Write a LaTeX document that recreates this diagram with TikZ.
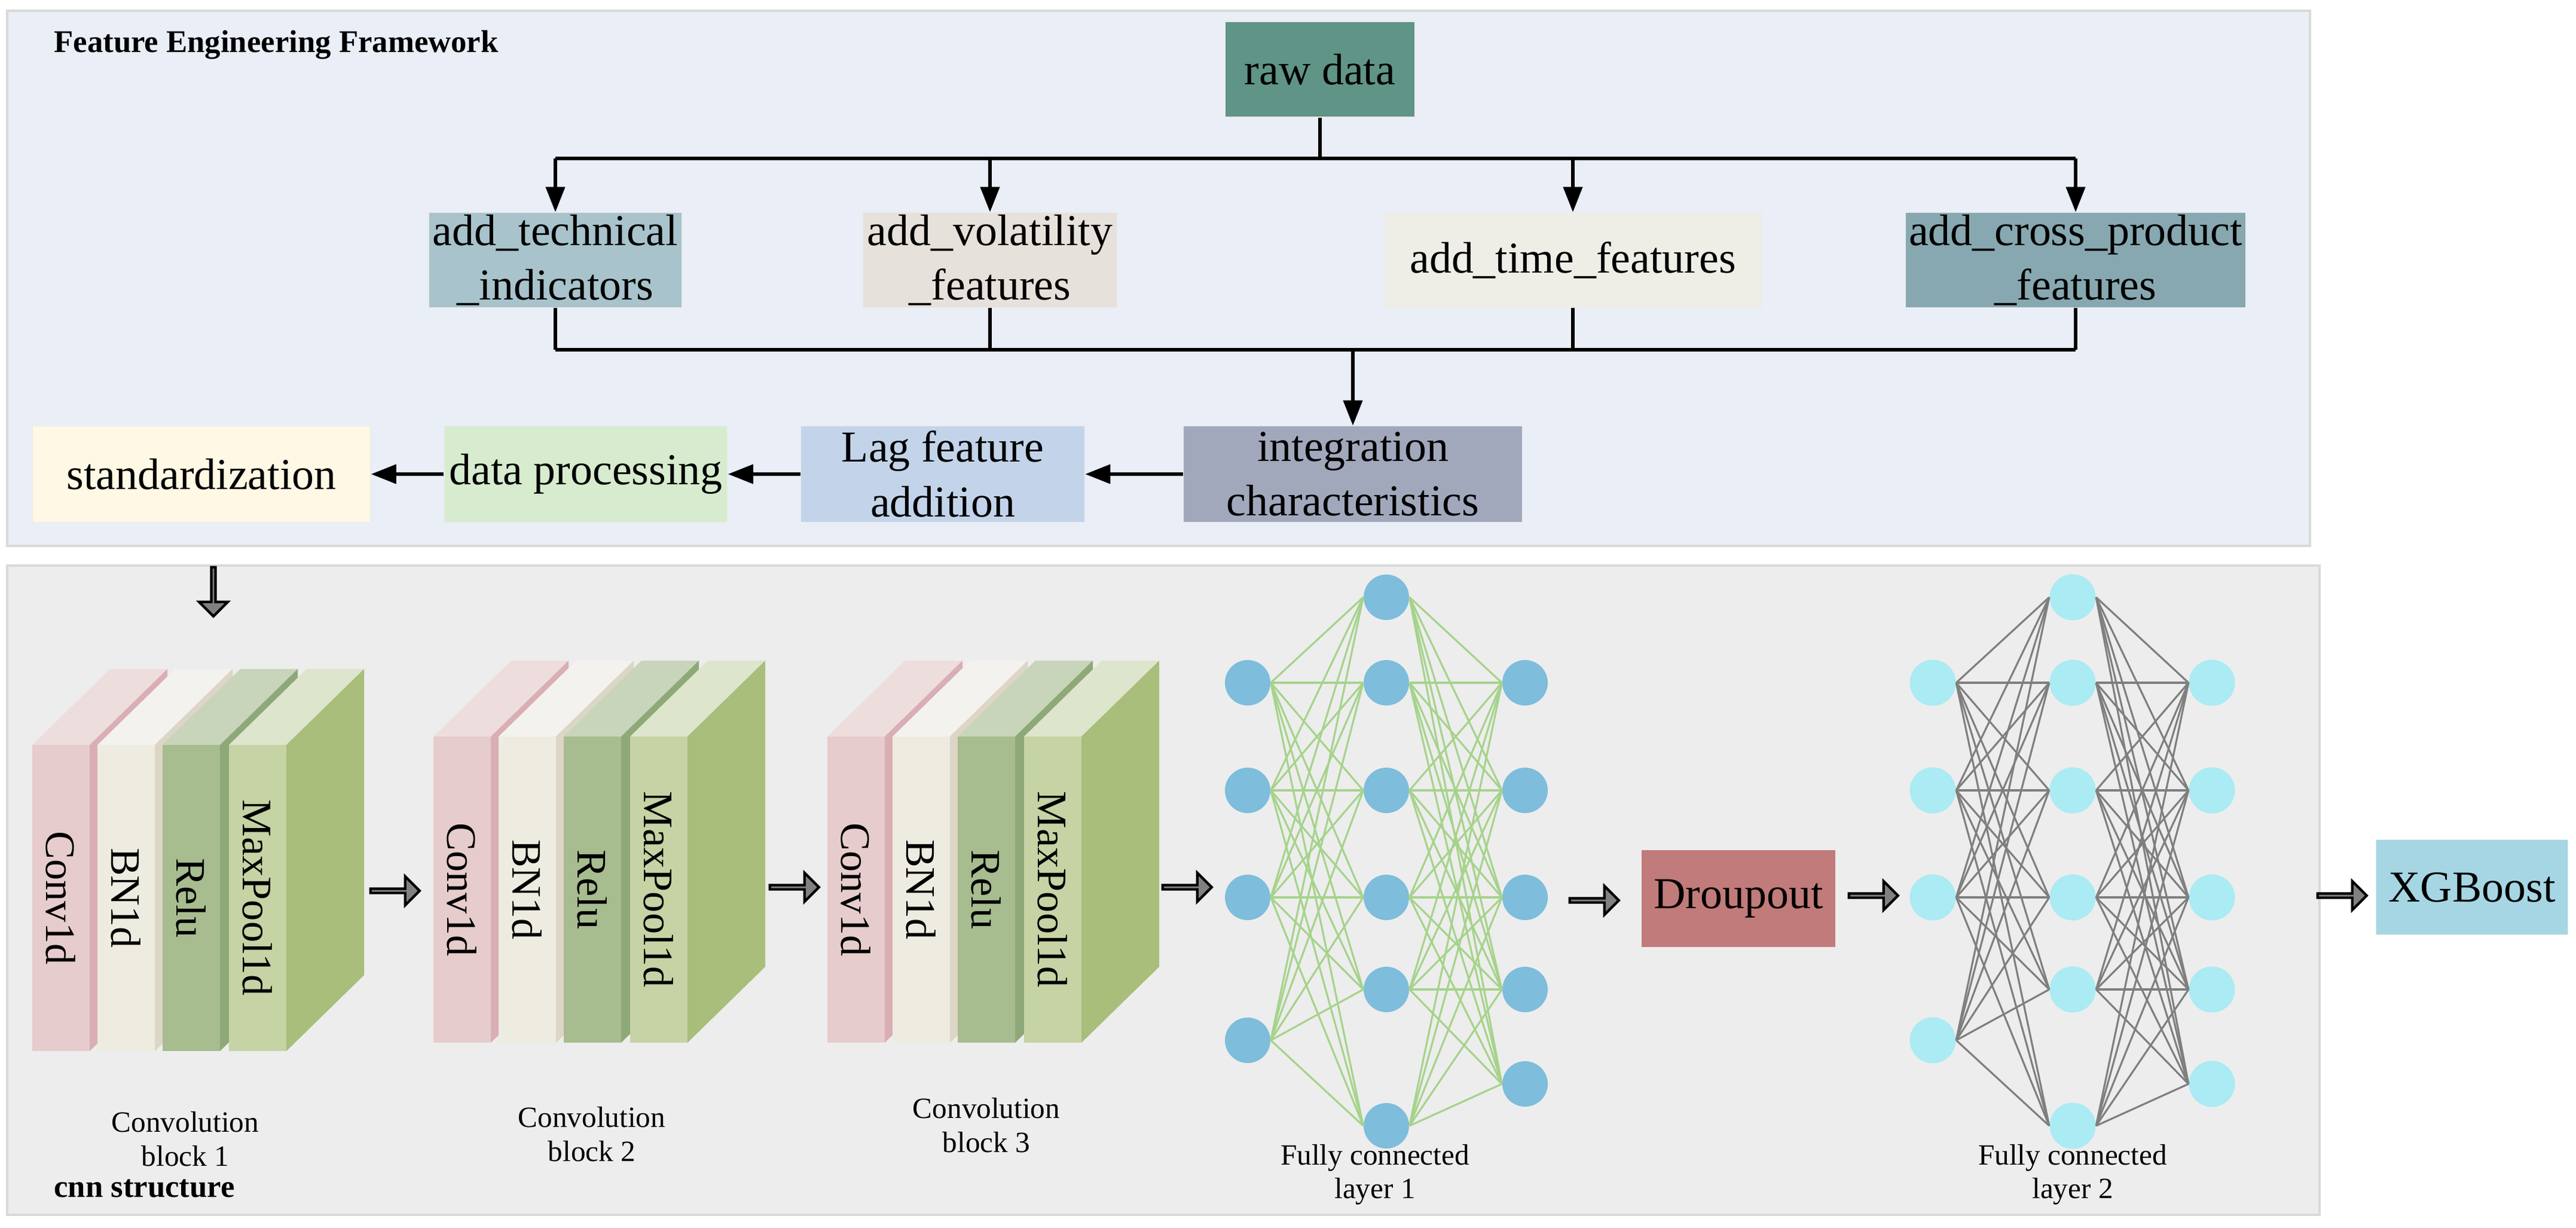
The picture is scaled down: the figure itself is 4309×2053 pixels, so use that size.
\documentclass[tikz,border=0pt]{standalone}
\usepackage{fontspec}
\setmainfont{Liberation Serif}
\usetikzlibrary{shapes.arrows,arrows.meta}
\definecolor{toppanel}{HTML}{E9EEF7}
\definecolor{botpanel}{HTML}{EDEDED}
\definecolor{cRaw}{HTML}{5F9486}
\definecolor{cTech}{HTML}{A8C3CB}
\definecolor{cVol}{HTML}{E6E1DA}
\definecolor{cTime}{HTML}{EEEEE7}
\definecolor{cCross}{HTML}{87A8B0}
\definecolor{cInt}{HTML}{A2A8BC}
\definecolor{cLag}{HTML}{C3D4EA}
\definecolor{cDP}{HTML}{D7EBCF}
\definecolor{cStd}{HTML}{FEF8E4}
\definecolor{cDrop}{HTML}{C17B7A}
\definecolor{cXG}{HTML}{A6D6E3}
\definecolor{nodeA}{HTML}{7EBDDB}
\definecolor{nodeB}{HTML}{ABEBF3}
\definecolor{edgeA}{HTML}{A6D38B}
\definecolor{edgeB}{HTML}{7F7F7F}
\newcommand\fs[2]{\fontsize{#1}{#2}\selectfont}
\newcommand\myslab[6]{%
  \fill[#4] (#1,#2) -- ++(130,-127) -- ++(96,0) -- ++(-130,127) -- cycle;
  \fill[#5] (#1+96,#2) -- ++(130,-127) -- ++(0,512) -- ++(-130,127) -- cycle;
  \fill[#3] (#1,#2) rectangle ++(96,512);
  \node[rotate=-90,font=\fs{20}{24}] at (#1+48,#2+256) {#6};}
\newcommand\myblock[2]{%
  \myslab{#1}{#2}{cConvF}{cConvT}{cConvS}{Conv1d}
  \myslab{#1+109}{#2}{cBNF}{cBNT}{cBNS}{BN1d}
  \myslab{#1+218}{#2}{cReF}{cReT}{cReS}{Relu}
  \myslab{#1+329}{#2}{cMPF}{cMPT}{cMPS}{MaxPool1d}}
\definecolor{cConvF}{HTML}{E6CCCC}\definecolor{cConvT}{HTML}{EEDDDD}\definecolor{cConvS}{HTML}{D9AEB4}
\definecolor{cBNF}{HTML}{EEEBE0}\definecolor{cBNT}{HTML}{F3F2EE}\definecolor{cBNS}{HTML}{DDD5C5}
\definecolor{cReF}{HTML}{A7BC8F}\definecolor{cReT}{HTML}{C8D5BA}\definecolor{cReS}{HTML}{8FA878}
\definecolor{cMPF}{HTML}{C5D3A5}\definecolor{cMPT}{HTML}{DDE5CD}\definecolor{cMPS}{HTML}{A8BE7A}
\tikzset{
  box/.style={rectangle,inner sep=0pt,align=center,font=\fs{21}{26},draw=black!8},
  line/.style={line width=1.6pt},
  arr/.style={line width=1.6pt,-{Triangle[length=12pt,width=9pt]}},
  fat/.style={single arrow,draw=black,fill=gray,line width=1.2pt,minimum height=82*0.01cm,single arrow head extend=0.12cm,minimum width=48*0.01cm,inner sep=0pt},
  lbl/.style={align=center,font=\fs{14}{16}},
  na/.style={circle,fill=nodeA,minimum size=76*0.01cm,inner sep=0pt},
  nb/.style={circle,fill=nodeB,minimum size=77*0.01cm,inner sep=0pt},
}
\begin{document}
\begin{tikzpicture}[x=0.01cm,y=-0.01cm]
\useasboundingbox (0,0) rectangle (4309,2053);
% panels
\filldraw[fill=toppanel,draw=black!15,line width=1pt] (12,18) rectangle (3864,913);
\filldraw[fill=botpanel,draw=black!15,line width=1pt] (12,946) rectangle (3880,2032);
\node[anchor=west,font=\bfseries\fs{15}{18}] (title) at (78,75) {Feature Engineering Framework};
\node[anchor=west,font=\bfseries\fs{15}{18}] (cnn) at (78,1988) {cnn structure};
% top boxes
\node[box,fill=cRaw,minimum width=318*0.01cm,minimum height=160*0.01cm] (raw) at (2208,116) {raw data};
\node[box,fill=cTech,minimum width=424*0.01cm,minimum height=159*0.01cm] (tech) at (929,435) {add\_technical\\\_indicators};
\node[box,fill=cVol,minimum width=425*0.01cm,minimum height=159*0.01cm] (vol) at (1656,435) {add\_volatility\\\_features};
\node[box,fill=cTime,minimum width=630*0.01cm,minimum height=159*0.01cm] (time) at (2631,435) {add\_time\_features};
\node[box,fill=cCross,minimum width=569*0.01cm,minimum height=159*0.01cm] (cross) at (3472,435) {add\_cross\_product\\\_features};
\node[box,fill=cInt,minimum width=567*0.01cm,minimum height=161*0.01cm] (int) at (2263,793) {integration\\characteristics};
\node[box,fill=cLag,minimum width=475*0.01cm,minimum height=161*0.01cm] (lag) at (1577,793) {Lag feature\\addition};
\node[box,fill=cDP,minimum width=474*0.01cm,minimum height=161*0.01cm] (dp) at (980,793) {data processing};
\node[box,fill=cStd,minimum width=566*0.01cm,minimum height=161*0.01cm] (std) at (337,793) {standardization};
% connectors
\coordinate (busT) at (0,265);
\coordinate (busB) at (0,585);
\draw[line] (raw.south) -- (raw.south |- busT);
\draw[line] (tech.north |- busT) -- (cross.north |- busT);
\foreach \b in {tech,vol,time,cross} {
  \draw[arr] (\b.north |- busT) -- (\b.north);
  \draw[line] (\b.south) -- (\b.south |- busB);
}
\draw[line] (tech.south |- busB) -- (cross.south |- busB);
\draw[arr] (int.north |- busB) -- (int.north);
\draw[arr] (int.west) -- (lag.east);
\draw[arr] (lag.west) -- (dp.east);
\draw[arr] (dp.west) -- (std.east);
% fat arrows
\node[fat,rotate=-90] (f0) at (357,988) {};
\node[fat] (f1) at (659,1490) {};
\node[fat] (f2) at (1327,1484) {};
\node[fat] (f3) at (1984,1484) {};
\node[fat] (f4) at (2665,1506) {};
\node[fat] (f5) at (3132,1498) {};
\node[fat] (f6) at (3916,1498) {};
% conv blocks
\myblock{54}{1246}
\myblock{725}{1232}
\myblock{1384}{1232}
\node[lbl] (l1) at (310,1905) {Convolution\\block 1};
\node[lbl] (l2) at (990,1897) {Convolution\\block 2};
\node[lbl] (l3) at (1650,1882) {Convolution\\block 3};
% FC1
\foreach \y [count=\i] in {1142,1322,1501,1740} \node[na] (a\i) at (2087,\y) {};
\foreach \y [count=\i] in {999,1142,1322,1501,1655,1883} \node[na] (b\i) at (2319,\y) {};
\foreach \y [count=\i] in {1142,1322,1501,1655,1813} \node[na] (c\i) at (2551,\y) {};
\foreach \i in {1,...,4} \foreach \j in {1,...,6} \draw[edgeA,line width=0.9pt] (a\i.east) -- (b\j.west);
\foreach \i in {1,...,6} \foreach \j in {1,...,5} \draw[edgeA,line width=0.9pt] (b\i.east) -- (c\j.west);
\node[lbl] (fl1) at (2300,1965) {Fully connected\\layer 1};
% Dropout, FC2, XGBoost
\node[box,fill=cDrop,minimum width=325*0.01cm,minimum height=163*0.01cm] (drop) at (2908,1503) {Droupout};
\foreach \y [count=\i] in {1142,1322,1501,1740} \node[nb] (d\i) at (3233,\y) {};
\foreach \y [count=\i] in {999,1142,1322,1501,1655,1883} \node[nb] (e\i) at (3467,\y) {};
\foreach \y [count=\i] in {1142,1322,1501,1655,1813} \node[nb] (g\i) at (3700,\y) {};
\foreach \i in {1,...,4} \foreach \j in {1,...,6} \draw[edgeB,line width=0.9pt] (d\i.east) -- (e\j.west);
\foreach \i in {1,...,6} \foreach \j in {1,...,5} \draw[edgeB,line width=0.9pt] (e\i.east) -- (g\j.west);
\node[lbl] (fl2) at (3467,1965) {Fully connected\\layer 2};
\node[box,fill=cXG,minimum width=321*0.01cm,minimum height=159*0.01cm] (xg) at (4135,1484) {XGBoost};
\end{tikzpicture}
\end{document}
